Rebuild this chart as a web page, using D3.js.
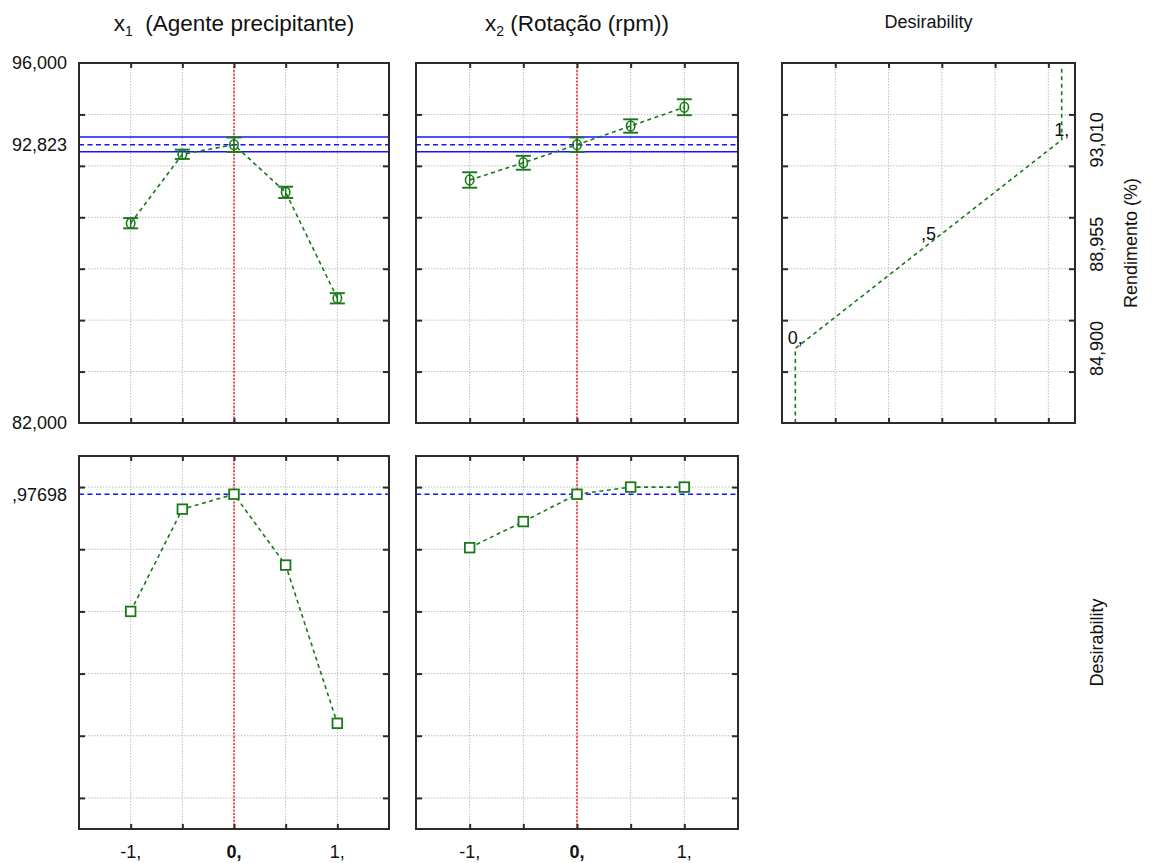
<!DOCTYPE html>
<html>
<head>
<meta charset="utf-8">
<script src="https://cdn.jsdelivr.net/npm/d3@7"></script>
<style>
  html, body { margin: 0; padding: 0; background: #fff; }
  svg { display: block; font-family: "Liberation Sans", Arial, sans-serif; }
  text { fill: #111; }
</style>
</head>
<body>
<svg id="chart" width="1152" height="863"></svg>
<script>
// Coded factor levels shared by both factor columns
const levels = [-1, -0.5, 0, 0.5, 1];

// Predicted yield (Rendimento, %) and its confidence half-width at each level
const x1Yield = [89.77, 92.45, 92.823, 90.97, 86.85];
const x1YieldErr = [0.20, 0.18, 0.28, 0.22, 0.20];
const x2Yield = [91.45, 92.12, 92.823, 93.55, 94.28];
const x2YieldErr = [0.30, 0.27, 0.28, 0.26, 0.31];

// Individual desirability at each level
const x1Desir = [0.600, 0.929, 0.97698, 0.749, 0.240];
const x2Desir = [0.805, 0.889, 0.97698, 1.0, 1.0];

// Current optimum: predicted yield, its confidence band, overall desirability
const currentYield = 92.823;
const yieldBand = [92.55, 93.12];
const currentDesir = 0.97698;

// Desirability function for the yield: low / mid / high anchors
const dfYield = [84.9, 88.955, 93.01];
const dfDesir = [0, 0.5, 1];
const dfLabels = ["0,", ",5", "1,"];

// Axis ticks and tick labels
const yieldDomain = [82, 96];
const desirDomain = [-0.1, 1.1];
const factorDomain = [-1.5, 1.5];
const dfXDomain = [-0.05, 1.05];
const yieldGridTicks = [84, 86, 88, 90, 92, 94];
const desirGridTicks = [0, 0.2, 0.4, 0.6, 0.8, 1.0];
const factorGridTicks = [-1, -0.5, 0, 0.5, 1];
const factorLabelTicks = [-1, 0, 1];
const factorTickLabels = ["-1,", "0,", "1,"];
const dfXGridTicks = [0.15, 0.35, 0.55, 0.75, 0.95];
const yieldLabelTicks = [96, currentYield, 82];
const dfRightTicks = [93.01, 88.955, 84.9];

const columnTitles = [["x", "1", "\u00a0\u00a0(Agente precipitante)"], ["x", "2", "\u00a0(Rotação (rpm))"]];

// ---------------------------------------------------------------
const svg = d3.select("#chart");
const loc = d3.formatLocale({ decimal: ",", thousands: ".", grouping: [3], currency: ["", ""], minus: "-" });
const f3 = loc.format(".3f");
const f5 = v => loc.format(".5f")(v).replace(/^0/, "");

const GREEN = "#1a781a";
const BLUE = "#1414ff";
const GRID = "#bdbdbd";
const FRAME = "#2b2b2b";

const cols = [{ x0: 79, x1: 389 }, { x0: 416, x1: 738 }, { x0: 782, x1: 1075 }];
const rows = [{ y0: 63, y1: 423 }, { y0: 456, y1: 829 }];

const yYield = d3.scaleLinear().domain(yieldDomain).range([rows[0].y1, rows[0].y0]);
const yDesir = d3.scaleLinear().domain(desirDomain).range([rows[1].y1, rows[1].y0]);
const xFactor = cols.slice(0, 2).map(c => d3.scaleLinear().domain(factorDomain).range([c.x0, c.x1]));
const xDf = d3.scaleLinear().domain(dfXDomain).range([cols[2].x0, cols[2].x1]);

// Dotted grid for one panel
function panelFrame(g, xs, ys, xTicks, yTicks) {
  const [xa, xb] = xs.range();
  const [yb, ya] = ys.range();
  const grid = g.append("g");
  grid.selectAll(".gx").data(xTicks).join("line")
    .attr("x1", d => xs(d)).attr("x2", d => xs(d)).attr("y1", ya).attr("y2", yb)
    .attr("stroke", GRID).attr("stroke-width", 1).attr("stroke-dasharray", "1.5,1.5");
  grid.selectAll(".gy").data(yTicks).join("line")
    .attr("x1", xa).attr("x2", xb).attr("y1", d => ys(d)).attr("y2", d => ys(d))
    .attr("stroke", GRID).attr("stroke-width", 1).attr("stroke-dasharray", "1.5,1.5");
}
// Frame and inward ticks on every side
function panelBorder(g, xs, ys, xTicks, yTicks) {
  const [xa, xb] = xs.range();
  const [yb, ya] = ys.range();
  const w = xb - xa, h = yb - ya;
  const tk = 5;
  g.append("g").attr("transform", `translate(0,${yb})`)
    .call(d3.axisBottom(xs).tickValues(xTicks).tickSize(-tk).tickFormat("").tickSizeOuter(0));
  g.append("g").attr("transform", `translate(0,${ya})`)
    .call(d3.axisTop(xs).tickValues(xTicks).tickSize(-tk).tickFormat("").tickSizeOuter(0));
  g.append("g").attr("transform", `translate(${xa},0)`)
    .call(d3.axisLeft(ys).tickValues(yTicks).tickSize(-tk - 1).tickFormat("").tickSizeOuter(0));
  g.append("g").attr("transform", `translate(${xb},0)`)
    .call(d3.axisRight(ys).tickValues(yTicks).tickSize(-tk - 1).tickFormat("").tickSizeOuter(0));
  g.selectAll(".domain").remove();
  g.selectAll(".tick line").attr("stroke", FRAME).attr("stroke-width", 2);
  g.append("rect").attr("x", xa).attr("y", ya).attr("width", w).attr("height", h)
    .attr("fill", "none").attr("stroke", FRAME).attr("stroke-width", 2);
}

const lineDash = "4,3.5";
const lineW = 1.6;

// ---------------- Factor columns ----------------
const yieldSets = [[x1Yield, x1YieldErr], [x2Yield, x2YieldErr]];
const desirSets = [x1Desir, x2Desir];

for (let c = 0; c < 2; c++) {
  const xs = xFactor[c];
  const [xa, xb] = xs.range();

  // ---- yield row ----
  const gTop = svg.append("g");
  panelFrame(gTop, xs, yYield, factorGridTicks, yieldGridTicks);
  // current factor setting
  gTop.append("line").attr("x1", xs(0)).attr("x2", xs(0))
    .attr("y1", rows[0].y0).attr("y2", rows[0].y1)
    .attr("stroke", "#ff0000").attr("stroke-width", 1.3).attr("stroke-dasharray", "2,1.5");
  // predicted value and confidence band
  yieldBand.forEach(v => gTop.append("line").attr("x1", xa).attr("x2", xb)
    .attr("y1", yYield(v)).attr("y2", yYield(v)).attr("stroke", BLUE).attr("stroke-width", 1.6));
  gTop.append("line").attr("x1", xa).attr("x2", xb)
    .attr("y1", yYield(currentYield)).attr("y2", yYield(currentYield))
    .attr("stroke", BLUE).attr("stroke-width", 1.6).attr("stroke-dasharray", "5,3.5");

  const [vals, errs] = yieldSets[c];
  const pts = levels.map((l, i) => ({ x: l, y: vals[i], e: errs[i] }));
  gTop.append("path").datum(pts)
    .attr("d", d3.line().x(d => xs(d.x)).y(d => yYield(d.y)))
    .attr("fill", "none").attr("stroke", GREEN).attr("stroke-width", lineW).attr("stroke-dasharray", lineDash);
  const mk = gTop.selectAll(".mk").data(pts).join("g");
  mk.append("line").attr("x1", d => xs(d.x)).attr("x2", d => xs(d.x))
    .attr("y1", d => yYield(d.y + d.e)).attr("y2", d => yYield(d.y - d.e))
    .attr("stroke", GREEN).attr("stroke-width", 1.5);
  [1, -1].forEach(s => mk.append("line")
    .attr("x1", d => xs(d.x) - 7.5).attr("x2", d => xs(d.x) + 7.5)
    .attr("y1", d => yYield(d.y + s * d.e)).attr("y2", d => yYield(d.y + s * d.e))
    .attr("stroke", GREEN).attr("stroke-width", 1.9));
  mk.append("ellipse").attr("cx", d => xs(d.x)).attr("cy", d => yYield(d.y))
    .attr("rx", 4.2).attr("ry", 5).attr("fill", "none").attr("stroke", GREEN).attr("stroke-width", 1.6);
  panelBorder(gTop, xs, yYield, factorGridTicks, yieldGridTicks);

  // ---- desirability row ----
  const gBot = svg.append("g");
  panelFrame(gBot, xs, yDesir, factorGridTicks, desirGridTicks);
  gBot.append("line").attr("x1", xs(0)).attr("x2", xs(0))
    .attr("y1", rows[1].y0).attr("y2", rows[1].y1)
    .attr("stroke", "#ff0000").attr("stroke-width", 1.3).attr("stroke-dasharray", "2,1.5");
  gBot.append("line").attr("x1", xa).attr("x2", xb)
    .attr("y1", yDesir(currentDesir)).attr("y2", yDesir(currentDesir))
    .attr("stroke", BLUE).attr("stroke-width", 1.6).attr("stroke-dasharray", "5,3.5");
  const dp = levels.map((l, i) => ({ x: l, y: desirSets[c][i] }));
  gBot.append("path").datum(dp)
    .attr("d", d3.line().x(d => xs(d.x)).y(d => yDesir(d.y)))
    .attr("fill", "none").attr("stroke", GREEN).attr("stroke-width", lineW).attr("stroke-dasharray", lineDash);
  gBot.selectAll(".sq").data(dp).join("rect")
    .attr("x", d => xs(d.x) - 4.8).attr("y", d => yDesir(d.y) - 4.8)
    .attr("width", 9.6).attr("height", 9.6)
    .attr("fill", "#fff").attr("stroke", GREEN).attr("stroke-width", 1.8);
  panelBorder(gBot, xs, yDesir, factorGridTicks, desirGridTicks);

  // factor tick labels under the bottom row
  svg.append("g").selectAll("text").data(factorLabelTicks).join("text")
    .attr("x", d => xs(d)).attr("y", 858)
    .attr("text-anchor", "middle").attr("font-size", 18)
    .attr("font-weight", d => d === 0 ? "bold" : "normal")
    .text((d, i) => factorTickLabels[i]);

  // column title with subscript
  const t = svg.append("text").attr("x", (xa + xb) / 2).attr("y", 31)
    .attr("text-anchor", "middle").attr("font-size", 22.5);
  t.append("tspan").text(columnTitles[c][0]);
  t.append("tspan").attr("font-size", 14).attr("dy", 5).text(columnTitles[c][1]);
  t.append("tspan").attr("dy", -5).text(columnTitles[c][2]);
}

// ---------------- Desirability function panel ----------------
{
  const g = svg.append("g");
  panelFrame(g, xDf, yYield, dfXGridTicks, yieldGridTicks);
  const prof = [{ d: dfDesir[0], y: yieldDomain[0] }]
    .concat(dfYield.map((y, i) => ({ d: dfDesir[i], y })))
    .concat([{ d: dfDesir[2], y: yieldDomain[1] - 0.2 }]);
  g.append("path").datum(prof)
    .attr("d", d3.line().x(d => xDf(d.d)).y(d => yYield(d.y)))
    .attr("fill", "none").attr("stroke", GREEN).attr("stroke-width", lineW).attr("stroke-dasharray", lineDash);
  g.selectAll(".dl").data(dfYield).join("text")
    .attr("x", (d, i) => xDf(dfDesir[i])).attr("y", d => yYield(d) - 4)
    .attr("text-anchor", "middle").attr("font-size", 18)
    .text((d, i) => dfLabels[i]);
  panelBorder(g, xDf, yYield, dfXGridTicks, yieldGridTicks);

  svg.append("text").attr("x", (cols[2].x0 + cols[2].x1) / 2).attr("y", 28)
    .attr("text-anchor", "middle").attr("font-size", 18).text("Desirability");

  svg.append("g").selectAll("text").data(dfRightTicks).join("text")
    .attr("transform", d => `translate(1103,${yYield(d)}) rotate(-90)`)
    .attr("text-anchor", "middle").attr("font-size", 18)
    .text(d => f3(d));

  svg.append("text")
    .attr("transform", `translate(1137,${(rows[0].y0 + rows[0].y1) / 2}) rotate(-90)`)
    .attr("text-anchor", "middle").attr("font-size", 18).text("Rendimento (%)");

  svg.append("text")
    .attr("transform", `translate(1103,${(rows[1].y0 + rows[1].y1) / 2}) rotate(-90)`)
    .attr("text-anchor", "middle").attr("font-size", 18).text("Desirability");
}

// ---------------- Left value labels ----------------
svg.append("g").selectAll("text").data(yieldLabelTicks).join("text")
  .attr("x", 67).attr("y", d => yYield(d)).attr("dy", "0.35em")
  .attr("text-anchor", "end").attr("font-size", 18)
  .text(d => f3(d));
svg.append("text").attr("x", 67).attr("y", yDesir(currentDesir)).attr("dy", "0.35em")
  .attr("text-anchor", "end").attr("font-size", 18).text(f5(currentDesir));
</script>
</body>
</html>
